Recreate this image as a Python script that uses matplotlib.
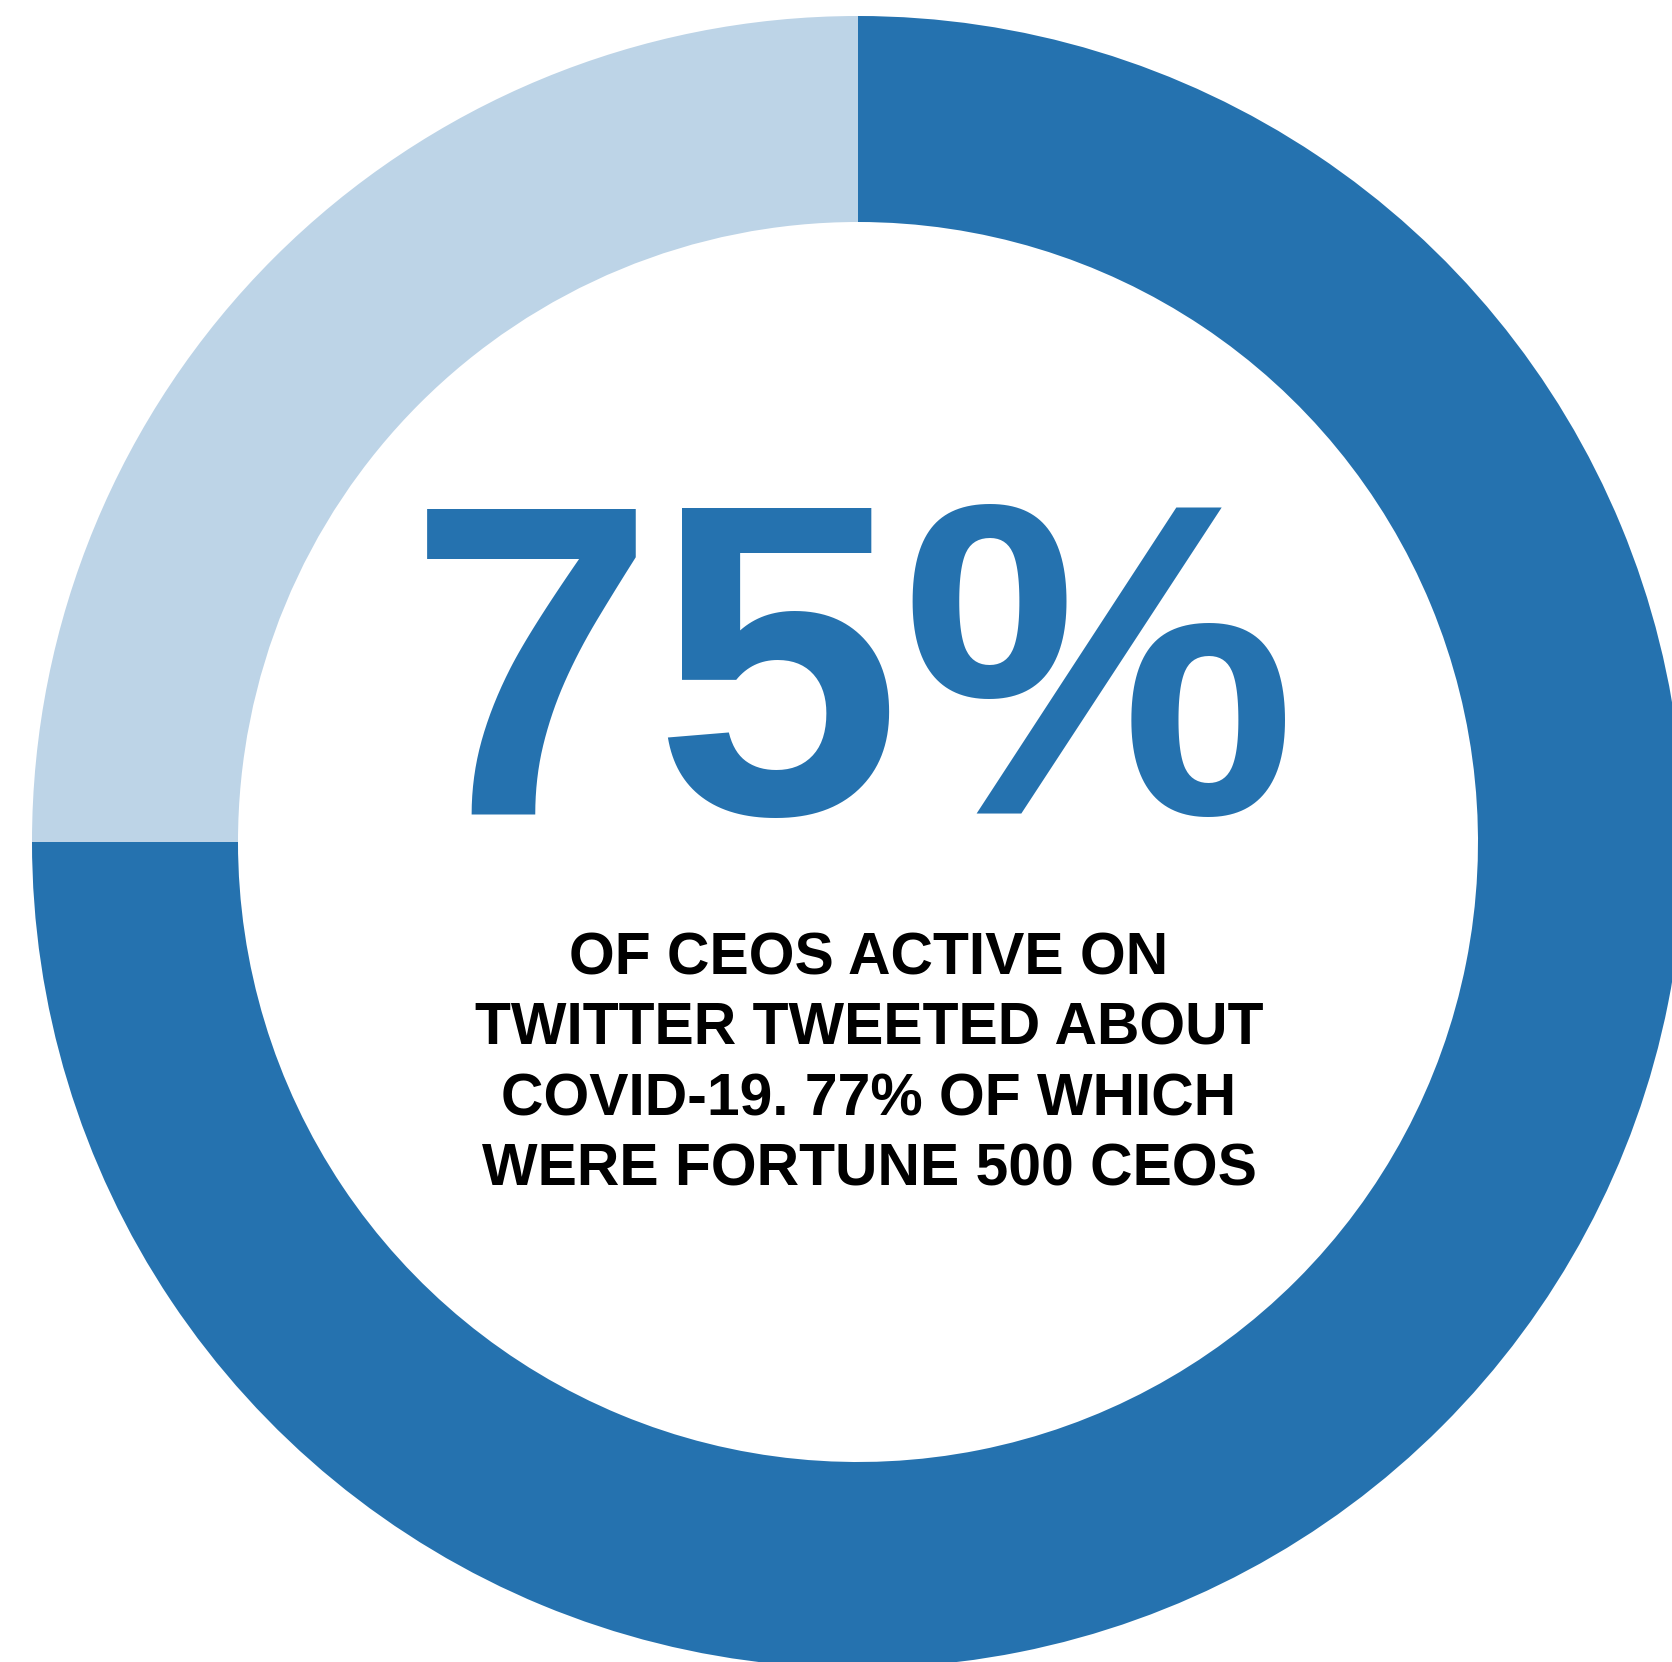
import matplotlib
matplotlib.use("Agg")
import matplotlib.pyplot as plt

W, H = 1672, 1662

labels = ["Tweeted about COVID-19", "Did not"]
values = [75, 25]
colors = ["#2572AF", "#BDD4E7"]
big_label = "75%"
sub_lines = ["OF CEOS ACTIVE ON",
             "TWITTER TWEETED ABOUT",
             "COVID-19. 77% OF WHICH",
             "WERE FORTUNE 500 CEOS"]

fig = plt.figure(figsize=(W / 100, H / 100), dpi=100)
ax = fig.add_axes([0, 0, 1, 1])
ax.set_xlim(0, W)
ax.set_ylim(0, H)
ax.set_aspect("equal")
ax.axis("off")

cx, cy = 858, H - 842
R = 826
ax.pie(values, colors=colors, startangle=90, counterclock=False,
       radius=R, center=(cx, cy), frame=True,
       wedgeprops=dict(width=206, linewidth=0))
ax.set_xlim(0, W)
ax.set_ylim(0, H)
ax.axis("off")

ax.text(853, H - 814, big_label, ha="center", va="baseline",
        fontsize=320, fontweight="bold", family="Liberation Sans",
        color=colors[0])

base0 = 974.5
step = 70.4
for i, line in enumerate(sub_lines):
    ax.text(869, H - (base0 + i * step), line, ha="center", va="baseline",
            fontsize=42.4, fontweight="bold", family="Liberation Sans",
            color="black")

fig.savefig("out.png", dpi=100)
